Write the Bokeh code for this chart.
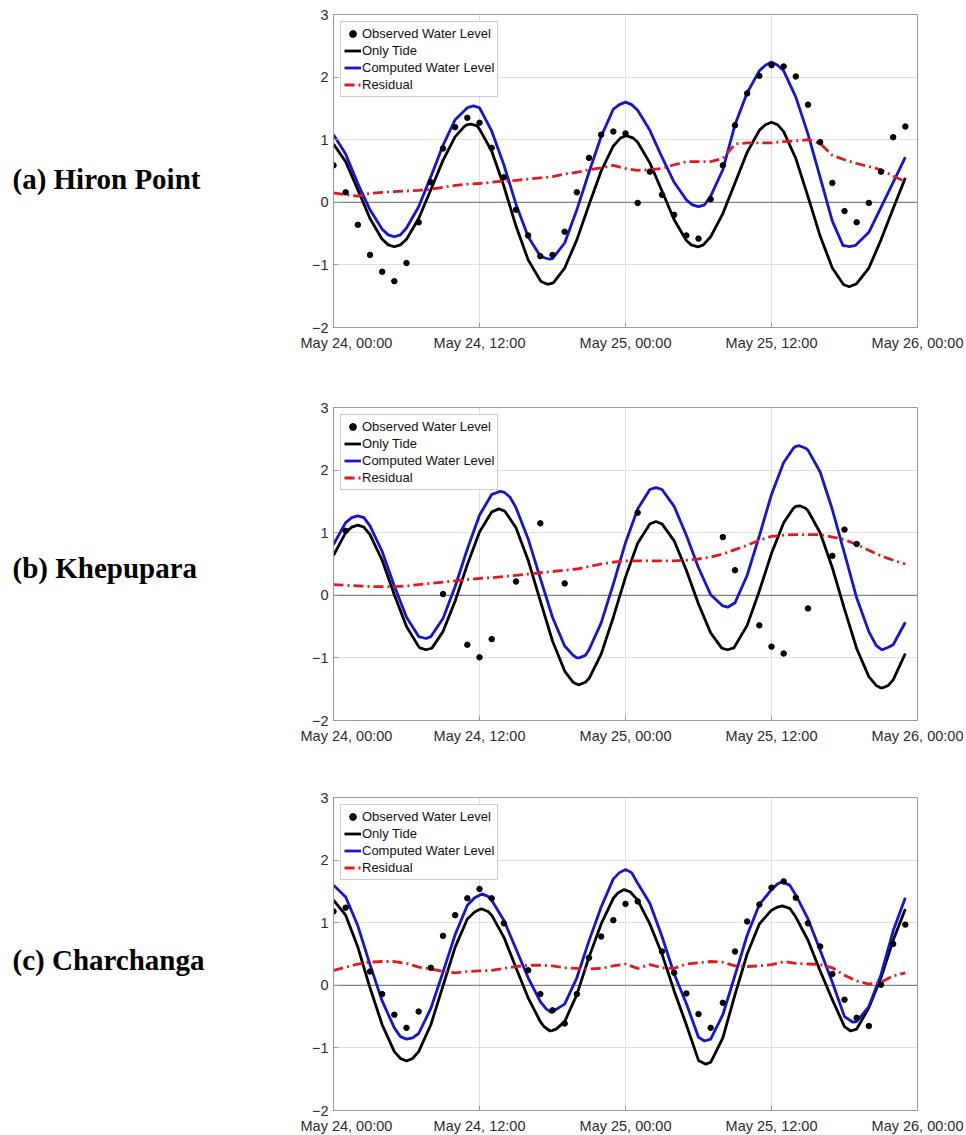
from bokeh.plotting import figure
from bokeh.models import Range1d, FixedTicker, Span, Label, Legend, LegendItem
from bokeh.layouts import column, row
from bokeh.embed import file_html
from bokeh.resources import INLINE

# ---------------- data ----------------
hours = list(range(48))  # hours since May 24, 00:00 (hourly readings)
tick_hours = [0, 12, 24, 36, 48]
tick_labels = ["May 24, 00:00", "May 24, 12:00", "May 25, 00:00", "May 25, 12:00", "May 26, 00:00"]
y_ticks = [-2, -1, 0, 1, 2, 3]
stations = ["(a) Hiron Point", "(b) Khepupara", "(c) Charchanga"]
series_names = ["Observed Water Level", "Only Tide", "Computed Water Level", "Residual"]

# (a) Hiron Point
obs_hours_a = list(range(48))
obs_a = [0.59, 0.16, -0.36, -0.84, -1.11, -1.26, -0.97, -0.32, 0.32, 0.86,
         1.20, 1.35, 1.27, 0.87, 0.40, -0.12, -0.53, -0.86, -0.84, -0.47,
         0.16, 0.71, 1.08, 1.13, 1.10, -0.01, 0.49, 0.12, -0.20, -0.53,
         -0.58, 0.05, 0.59, 1.23, 1.74, 2.02, 2.19, 2.17, 2.01, 1.56,
         0.96, 0.31, -0.14, -0.32, -0.01, 0.49, 1.04, 1.21]
tide_a = [0.93, 0.65, 0.20, -0.26, -0.59, -0.71, -0.59, -0.26, 0.20, 0.67,
          1.05, 1.24, 1.17, 0.82, 0.26, -0.38, -0.92, -1.25, -1.29, -1.05,
          -0.60, -0.04, 0.50, 0.90, 1.06, 0.96, 0.63, 0.18, -0.28, -0.61,
          -0.71, -0.55, -0.18, 0.31, 0.80, 1.15, 1.28, 1.13, 0.70, 0.09,
          -0.54, -1.05, -1.32, -1.30, -1.05, -0.60, -0.10, 0.39]
tide_a_peak_hours = [4.5, 5.5, 10.8, 11.3, 11.8, 17.1, 17.6, 18.1, 23.6, 24.1,
                     24.6, 29.4, 29.9, 30.4, 35.5, 36.5, 41.9, 42.4, 42.9]
tide_a_peak = [-0.68, -0.68, 1.22, 1.25, 1.22, -1.27, -1.31, -1.28, 1.03, 1.06,
               1.03, -0.68, -0.71, -0.68, 1.24, 1.24, -1.31, -1.35, -1.31]
computed_a = [1.08, 0.77, 0.30, -0.12, -0.43, -0.55, -0.41, -0.07, 0.41, 0.91,
              1.32, 1.51, 1.51, 1.14, 0.60, -0.03, -0.55, -0.86, -0.90, -0.65,
              -0.12, 0.48, 1.05, 1.49, 1.60, 1.47, 1.15, 0.72, 0.32, 0.04,
              -0.07, 0.10, 0.52, 1.24, 1.75, 2.10, 2.24, 2.10, 1.68, 1.09,
              0.40, -0.30, -0.69, -0.67, -0.48, -0.08, 0.32, 0.72]
computed_a_peak_hours = [4.5, 5.5, 11.5, 17.4, 17.8, 23.5, 24.5, 29.5, 30.5,
                         35.5, 36.5, 41.9, 42.4, 42.9]
computed_a_peak = [-0.52, -0.52, 1.54, -0.89, -0.91, 1.56, 1.56, -0.04, -0.04,
                   2.19, 2.19, -0.70, -0.71, -0.69]
residual_a = [0.15, 0.12, 0.10, 0.14, 0.16, 0.17, 0.18, 0.19, 0.21, 0.24,
              0.27, 0.29, 0.30, 0.32, 0.34, 0.35, 0.37, 0.39, 0.41, 0.45,
              0.48, 0.52, 0.55, 0.59, 0.54, 0.51, 0.52, 0.54, 0.60, 0.65,
              0.65, 0.65, 0.70, 0.93, 0.95, 0.95, 0.95, 0.97, 0.98, 1.00,
              0.94, 0.75, 0.68, 0.62, 0.57, 0.52, 0.42, 0.33]

# (b) Khepupara
obs_hours_b = [1, 9, 11, 12, 13, 15, 17, 19, 25, 32, 33, 35, 36, 37, 39, 41, 42, 43]
obs_b = [1.03, 0.02, -0.79, -0.99, -0.70, 0.22, 1.15, 0.19, 1.32, 0.93,
         0.40, -0.48, -0.82, -0.93, -0.21, 0.63, 1.05, 0.82]
tide_b = [0.64, 1.00, 1.12, 0.97, 0.56, 0.01, -0.50, -0.82, -0.85, -0.58,
          -0.09, 0.49, 1.01, 1.33, 1.35, 1.08, 0.56, -0.09, -0.73, -1.21,
          -1.42, -1.33, -0.94, -0.35, 0.29, 0.83, 1.14, 1.14, 0.87, 0.40,
          -0.14, -0.60, -0.85, -0.81, -0.48, 0.07, 0.67, 1.16, 1.42, 1.35,
          1.00, 0.44, -0.22, -0.85, -1.30, -1.48, -1.35, -0.93]
tide_b_peak_hours = [1.5, 2.5, 7.1, 7.6, 8.1, 13.1, 13.6, 14.1, 19.7, 20.2, 20.7,
                     26.5, 31.9, 32.4, 32.9, 37.8, 38.3, 38.8, 44.6, 45.1, 45.6]
tide_b_peak = [1.09, 1.09, -0.84, -0.87, -0.84, 1.34, 1.38, 1.34, -1.39, -1.43, -1.39,
               1.18, -0.84, -0.87, -0.84, 1.39, 1.43, 1.39, -1.44, -1.48, -1.44]
computed_b = [0.81, 1.16, 1.27, 1.11, 0.70, 0.15, -0.35, -0.66, -0.66, -0.37,
              0.14, 0.74, 1.28, 1.61, 1.65, 1.40, 0.90, 0.27, -0.35, -0.81,
              -1.00, -0.87, -0.44, 0.18, 0.84, 1.38, 1.69, 1.69, 1.42, 0.96,
              0.44, 0.01, -0.17, -0.12, 0.32, 0.95, 1.61, 2.12, 2.38, 2.32,
              1.97, 1.37, 0.67, -0.04, -0.58, -0.86, -0.79, -0.43]
computed_b_peak_hours = [1.5, 2.5, 7.6, 13.7, 14.5, 19.7, 20.2, 20.7, 26.5, 32.4,
                         37.8, 38.3, 38.8, 44.6, 45.1, 45.6]
computed_b_peak = [1.24, 1.24, -0.69, 1.66, 1.57, -0.96, -1.00, -0.96, 1.72, -0.19,
                   2.35, 2.39, 2.35, -0.80, -0.87, -0.83]
residual_b = [0.17, 0.16, 0.15, 0.14, 0.14, 0.14, 0.15, 0.17, 0.19, 0.21,
              0.23, 0.25, 0.27, 0.28, 0.30, 0.32, 0.34, 0.36, 0.38, 0.40,
              0.42, 0.46, 0.50, 0.53, 0.55, 0.55, 0.55, 0.55, 0.55, 0.56,
              0.58, 0.61, 0.66, 0.73, 0.80, 0.88, 0.94, 0.96, 0.97, 0.97,
              0.97, 0.93, 0.89, 0.81, 0.72, 0.63, 0.56, 0.50]

# (c) Charchanga
obs_hours_c = [0, 1, 3, 4, 5, 6, 7, 8, 9, 10, 11, 12, 13, 14, 16, 17, 18, 19, 20, 21,
               22, 23, 24, 25, 27, 28, 29, 30, 31, 32, 33, 34, 35, 36, 37, 38, 39, 40,
               41, 42, 43, 44, 45, 46, 47]
obs_c = [1.18, 1.24, 0.22, -0.14, -0.47, -0.68, -0.42, 0.28, 0.79, 1.12, 1.39, 1.54,
         1.39, 0.99, 0.24, -0.14, -0.40, -0.61, -0.14, 0.44, 0.78, 1.04, 1.30, 1.34,
         0.54, 0.20, -0.13, -0.46, -0.68, -0.28, 0.54, 1.02, 1.29, 1.56, 1.66, 1.40,
         0.99, 0.62, 0.18, -0.23, -0.52, -0.65, 0.01, 0.66, 0.97]
tide_c = [1.36, 1.12, 0.61, -0.04, -0.63, -1.06, -1.21, -1.06, -0.63, -0.01,
          0.61, 1.06, 1.21, 1.12, 0.77, 0.28, -0.20, -0.58, -0.72, -0.58,
          -0.15, 0.45, 0.98, 1.39, 1.52, 1.36, 0.98, 0.50, -0.09, -0.63,
          -1.20, -1.23, -0.84, -0.15, 0.50, 0.98, 1.20, 1.26, 1.09, 0.72,
          0.23, -0.23, -0.66, -0.70, -0.36, 0.12, 0.72, 1.22]
tide_c_peak_hours = [5.5, 6.5, 11.6, 12.2, 12.7, 17.3, 17.8, 18.3, 23.4, 23.9,
                     24.4, 30.6, 36.5, 36.9, 37.5, 42.5]
tide_c_peak = [-1.17, -1.17, 1.17, 1.22, 1.18, -0.66, -0.73, -0.70, 1.48, 1.53,
               1.49, -1.26, 1.25, 1.27, 1.23, -0.73]
computed_c = [1.60, 1.41, 0.95, 0.33, -0.25, -0.68, -0.86, -0.77, -0.37, 0.21,
              0.81, 1.28, 1.44, 1.36, 1.04, 0.58, 0.12, -0.26, -0.42, -0.30,
              0.12, 0.71, 1.25, 1.70, 1.85, 1.63, 1.31, 0.78, 0.18, -0.29,
              -0.83, -0.86, -0.47, 0.16, 0.80, 1.29, 1.53, 1.64, 1.44, 1.06,
              0.56, 0.05, -0.50, -0.58, -0.34, 0.17, 0.87, 1.40]
computed_c_peak_hours = [5.5, 6.5, 11.6, 12.2, 12.7, 17.5, 17.9, 23.5, 24.5, 30.5,
                         36.5, 36.9, 37.5, 42.7]
computed_c_peak = [-0.82, -0.84, 1.40, 1.46, 1.42, -0.38, -0.43, 1.80, 1.80, -0.89,
                   1.62, 1.66, 1.60, -0.59]
residual_c = [0.24, 0.29, 0.34, 0.37, 0.38, 0.38, 0.35, 0.29, 0.26, 0.22,
              0.20, 0.22, 0.23, 0.24, 0.27, 0.30, 0.32, 0.32, 0.31, 0.28,
              0.27, 0.26, 0.27, 0.31, 0.34, 0.27, 0.33, 0.28, 0.27, 0.34,
              0.36, 0.38, 0.37, 0.31, 0.30, 0.31, 0.33, 0.38, 0.35, 0.34,
              0.33, 0.28, 0.16, 0.07, 0.02, 0.05, 0.15, 0.20]

# ---------------- styling ----------------
AX = "#9a9a9a"
TXT = "#2b2b2b"
BLUE = "#1414d2"
RED = "#e3191b"
SANS = "Liberation Sans"
SERIF = "Liberation Serif"


def merge(h1, v1, h2, v2):
    pairs = sorted(zip(list(h1) + list(h2), list(v1) + list(v2)))
    return [a for a, _ in pairs], [b for _, b in pairs]


def make_panel(station, oh, ov, tide, comp, resid, top_b, bot_b, label_y):
    p = figure(frame_width=584, frame_height=313,
               min_border_left=33, min_border_right=49,
               min_border_top=top_b, min_border_bottom=bot_b,
               x_range=Range1d(0, 48), y_range=Range1d(-2, 3),
               output_backend="svg", toolbar_location=None,
               background_fill_color="white", border_fill_color="white",
               outline_line_color=AX, outline_line_width=1)

    p.xaxis.ticker = FixedTicker(ticks=tick_hours)
    p.xaxis.major_label_overrides = {h: lab for h, lab in zip(tick_hours, tick_labels)}
    p.yaxis.ticker = FixedTicker(ticks=y_ticks)
    for ax in (p.xaxis, p.yaxis):
        ax.axis_line_color = AX
        ax.major_tick_line_color = AX
        ax.major_tick_in = 5
        ax.major_tick_out = 0
        ax.minor_tick_line_color = None
        ax.major_label_text_font = SANS
        ax.major_label_text_font_size = "14.5px"
        ax.major_label_text_color = TXT
    p.xaxis.major_label_standoff = 7
    p.yaxis.major_label_standoff = 5

    p.grid.grid_line_color = "#e0e0e0"
    p.grid.grid_line_width = 1

    p.add_layout(Span(location=0, dimension="width", line_color="#808080",
                      line_width=1.3, level="underlay"))

    th, tv = tide
    ch, cv = comp
    r_tide = p.line(th, tv, line_color="black", line_width=2.8)
    r_comp = p.line(ch, cv, line_color=BLUE, line_width=2.8)
    r_res = p.line(hours, resid, line_color=RED, line_width=2.8, line_dash="10 4 2 4")
    r_obs = p.scatter(oh, ov, size=5.5, marker="circle", fill_color="black", line_color="black")

    legend = Legend(items=[LegendItem(label=series_names[0], renderers=[r_obs]),
                           LegendItem(label=series_names[1], renderers=[r_tide]),
                           LegendItem(label=series_names[2], renderers=[r_comp]),
                           LegendItem(label=series_names[3], renderers=[r_res])],
                    location="top_left", margin=7, padding=3, spacing=0,
                    label_height=17, glyph_height=17, glyph_width=17, label_standoff=1,
                    label_text_font=SANS, label_text_font_size="13px",
                    label_text_color="#111111",
                    border_line_color="#999999", border_line_width=1,
                    background_fill_color="white", background_fill_alpha=1)
    p.add_layout(legend)

    total_h = top_b + 313 + bot_b
    lf = figure(width=300, height=total_h, min_border=0,
                x_range=Range1d(0, 1), y_range=Range1d(0, 1),
                x_axis_location=None, y_axis_location=None,
                output_backend="svg", toolbar_location=None,
                outline_line_color=None, background_fill_color="white",
                border_fill_color="white")
    lf.grid.visible = False
    lf.add_layout(Label(x=12, y=label_y, x_units="screen", y_units="screen", text=station,
                        text_font=SERIF, text_font_style="bold", text_font_size="29px",
                        text_color="black", text_baseline="alphabetic", text_align="left"))
    return row(lf, p, spacing=0)


p1 = make_panel(stations[0], obs_hours_a, obs_a,
                merge(hours, tide_a, tide_a_peak_hours, tide_a_peak),
                merge(hours, computed_a, computed_a_peak_hours, computed_a_peak),
                residual_a, 14, 63, 149)
p2 = make_panel(stations[1], obs_hours_b, obs_b,
                merge(hours, tide_b, tide_b_peak_hours, tide_b_peak),
                merge(hours, computed_b, computed_b_peak_hours, computed_b_peak),
                residual_b, 17, 60, 153)
p3 = make_panel(stations[2], obs_hours_c, obs_c,
                merge(hours, tide_c, tide_c_peak_hours, tide_c_peak),
                merge(hours, computed_c, computed_c_peak_hours, computed_c_peak),
                residual_c, 17, 25, 150)

layout = column(p1, p2, p3, spacing=0)
open("out.html", "w").write(file_html(layout, INLINE))
